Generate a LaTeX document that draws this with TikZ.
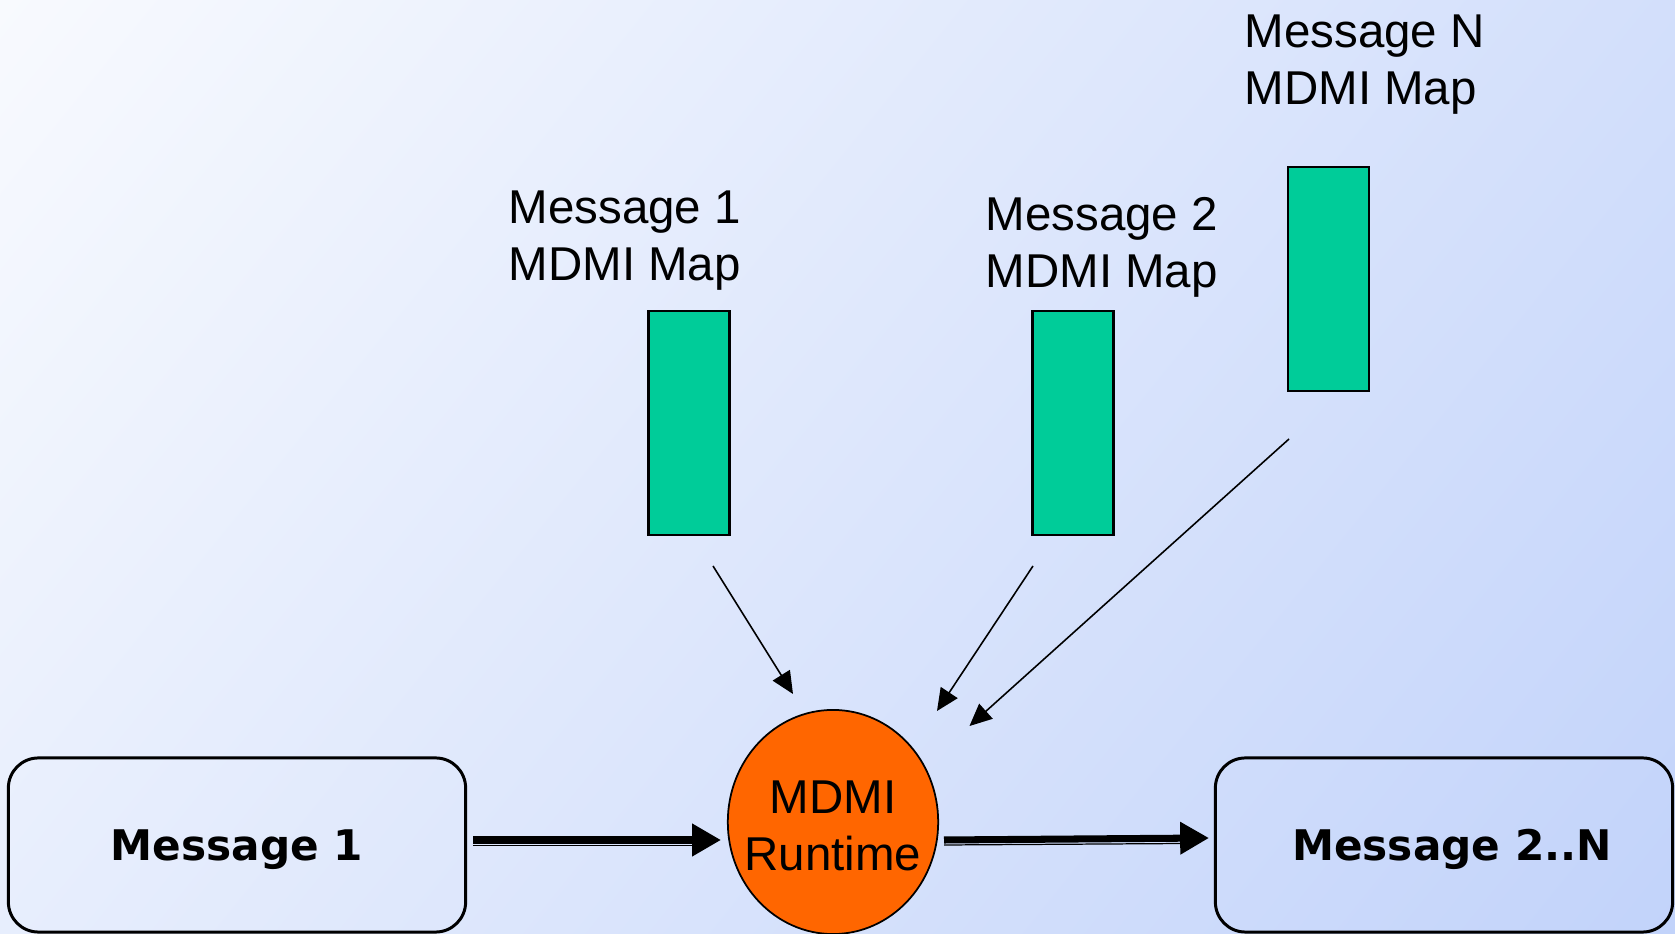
\documentclass[tikz,border=0pt]{standalone}
\usepackage{fontspec}
\setmainfont{Liberation Sans}
\newfontfamily\verd{DejaVu Sans}
\usetikzlibrary{arrows.meta,shapes.geometric}
\definecolor{bgL}{HTML}{F8FAFE}
\definecolor{bgD}{HTML}{C2D3FA}
\definecolor{mapgreen}{HTML}{00CC99}
\definecolor{rtorange}{HTML}{FF6600}
\pgfdeclarehorizontalshading{bgshade}{19cm}{color(0cm)=(bgL); color(18.89cm)=(bgD)}
\tikzset{
  msgbox/.style={draw=black, line width=0.85pt, rounded corners=0.3cm,
    minimum width=4.57cm, minimum height=1.74cm, inner sep=0pt, text depth=0pt,
    font=\verd\bfseries\fontsize{12}{14}\selectfont},
  mapbar/.style={draw=black, line width=0.6pt, fill=mapgreen,
    minimum width=0.81cm, minimum height=2.24cm, inner sep=0pt},
  maplabel/.style={anchor=north west, inner sep=0pt, align=left,
    font=\fontsize{13.5}{16.2}\selectfont},
  runtime/.style={ellipse, draw=black, line width=0.5pt, fill=rtorange,
    minimum width=2.08cm, minimum height=2.24cm, inner xsep=-0.14cm, inner ysep=0pt,
    align=center, font=\fontsize{13.5}{16.2}\selectfont},
  thinarrow/.style={line width=0.45pt, -{Triangle[length=6.3pt,width=5.7pt]}},
  bigarrow/.style={line width=2pt, -{Triangle[length=8.2pt,width=8.8pt]}},
  underline/.style={line width=0.35pt}
}
\begin{document}
\begin{tikzpicture}[x=0.01cm, y=-0.01cm]
\useasboundingbox (0,0) rectangle (1675,934);
\begin{scope}
\clip (0,0) rectangle (1675,934);
\node[inner sep=0pt, rotate=-39] (bg) at (837.5,467) {\pgfuseshading{bgshade}};
\end{scope}

% message boxes
\node[msgbox] (msg1) at (237,845) {Message 1};
\node[msgbox] (msgN) at (1444,845) {\hspace*{0.16cm}Message 2..N};

% runtime
\node[runtime] (rt) at (833,822) {\rule{0pt}{0.41cm}MDMI\\Runtime};

% map bars
\node[mapbar] (bar1) at (689,423) {};
\node[mapbar] (bar2) at (1073,423) {};
\node[mapbar] (barN) at (1328.5,279) {};

% labels
\node[maplabel] (lab1) at (508,190) {Message 1\\MDMI Map};
\node[maplabel] (lab2) at (985,197) {Message 2\\MDMI Map};
\node[maplabel] (labN) at (1244,14) {Message N\\MDMI Map};

% thin arrow ends
\coordinate (a1s) at (713,566);
\coordinate (a1e) at (793,694);
\coordinate (a2s) at (1033,566);
\coordinate (a2e) at (937,711);
\coordinate (a3s) at (1289,439);
\coordinate (a3e) at (969.5,726);
\draw[thinarrow] (a1s) -- (a1e);
\draw[thinarrow] (a2s) -- (a2e);
\draw[thinarrow] (a3s) -- (a3e);

% thick arrows
\coordinate (t1s) at (473,840);
\coordinate (t1e) at (721,840);
\coordinate (u1s) at (473,845.5);
\coordinate (u1e) at (700,845.5);
\coordinate (t2s) at (944,840);
\coordinate (t2e) at (1209,838);
\coordinate (u2s) at (944,845);
\coordinate (u2e) at (1185,843.5);
\draw[bigarrow] (t1s) -- (t1e);
\draw[underline] (u1s) -- (u1e);
\draw[bigarrow] (t2s) -- (t2e);
\draw[underline] (u2s) -- (u2e);
\end{tikzpicture}
\end{document}
